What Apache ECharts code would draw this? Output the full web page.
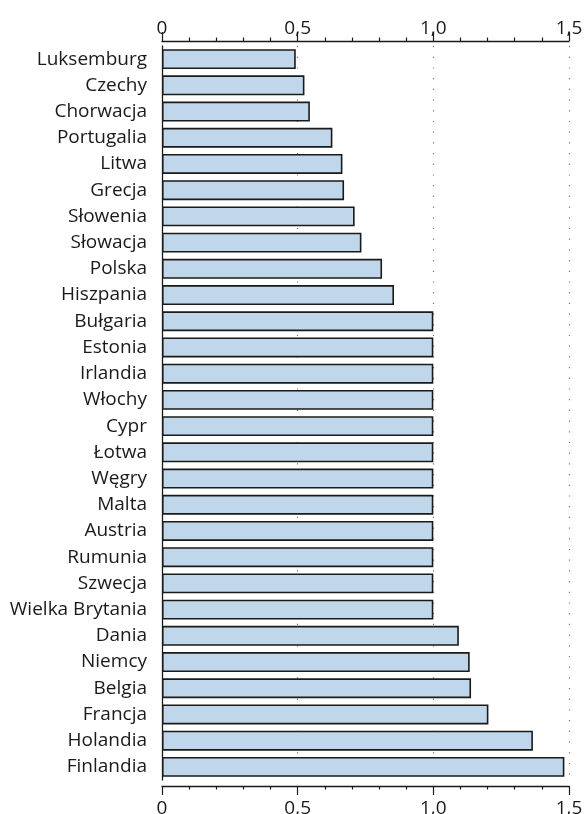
<!DOCTYPE html>
<html>
<head>
<meta charset="utf-8">
<script src="https://cdn.jsdelivr.net/npm/echarts@6/dist/echarts.min.js"></script>
<style>html,body{margin:0;padding:0;background:#fff}#c{width:584px;height:814px}</style>
</head>
<body>
<div id="c"></div>
<script>
const categories = ['Luksemburg','Czechy','Chorwacja','Portugalia','Litwa','Grecja','Słowenia','Słowacja','Polska','Hiszpania','Bułgaria','Estonia','Irlandia','Włochy','Cypr','Łotwa','Węgry','Malta','Austria','Rumunia','Szwecja','Wielka Brytania','Dania','Niemcy','Belgia','Francja','Holandia','Finlandia'];
const values = [0.493,0.525,0.545,0.628,0.665,0.671,0.710,0.735,0.811,0.855,1.0,1.0,1.0,1.0,1.0,1.0,1.0,1.0,1.0,1.0,1.0,1.0,1.094,1.134,1.139,1.203,1.367,1.483];
const xTicks = { min: 0, max: 1.5, interval: 0.5 };

const FONT = 'Open Sans';
const fmt = v => v === 0 ? '0' : v.toFixed(1).replace('.', ',');
const axisCommon = {
  type: 'value', min: xTicks.min, max: xTicks.max, interval: xTicks.interval,
  axisLine: { show: true, lineStyle: { color: '#1a1a1a', width: 1.3 } },
  axisTick: { show: true, length: 9, lineStyle: { color: '#1a1a1a', width: 1.2 } },
  minorTick: { show: true, splitNumber: 5, length: 3.5, lineStyle: { color: '#1a1a1a', width: 1.2 } },
  axisLabel: { formatter: fmt, color: '#1a1a1a', fontFamily: FONT, fontSize: 19, showMinLabel: true, showMaxLabel: true }
};
const chart = echarts.init(document.getElementById('c'), null, { renderer: 'canvas' });
chart.setOption({
  animation: false,
  grid: { left: 162, right: 15, top: 46, bottom: 34, containLabel: false, outerBoundsMode: 'none' },
  xAxis: [
    Object.assign({}, axisCommon, {
      position: 'top', offset: 5,
      axisLabel: Object.assign({}, axisCommon.axisLabel, { margin: 3 }),
      splitLine: { show: true, showMinLine: false, lineStyle: { color: '#777', width: 1.2, type: [1.2, 9.5] } }
    }),
    Object.assign({}, axisCommon, {
      position: 'bottom', offset: 6,
      axisLabel: Object.assign({}, axisCommon.axisLabel, { margin: 13 }),
      splitLine: { show: false }
    })
  ],
  yAxis: {
    type: 'category', data: categories, inverse: true, offset: 7,
    axisLine: { show: true, lineStyle: { color: '#1a1a1a', width: 1.3 } },
    axisTick: { show: false },
    axisLabel: { interval: 0, color: '#1a1a1a', fontFamily: FONT, fontSize: 19, margin: 8 }
  },
  series: [{
    type: 'bar', data: values, xAxisIndex: 0, barCategoryGap: '24%',
    itemStyle: { color: '#c0d7eb', borderColor: '#1a1a1a', borderWidth: 1.6 }
  }]
});
</script>
</body>
</html>
